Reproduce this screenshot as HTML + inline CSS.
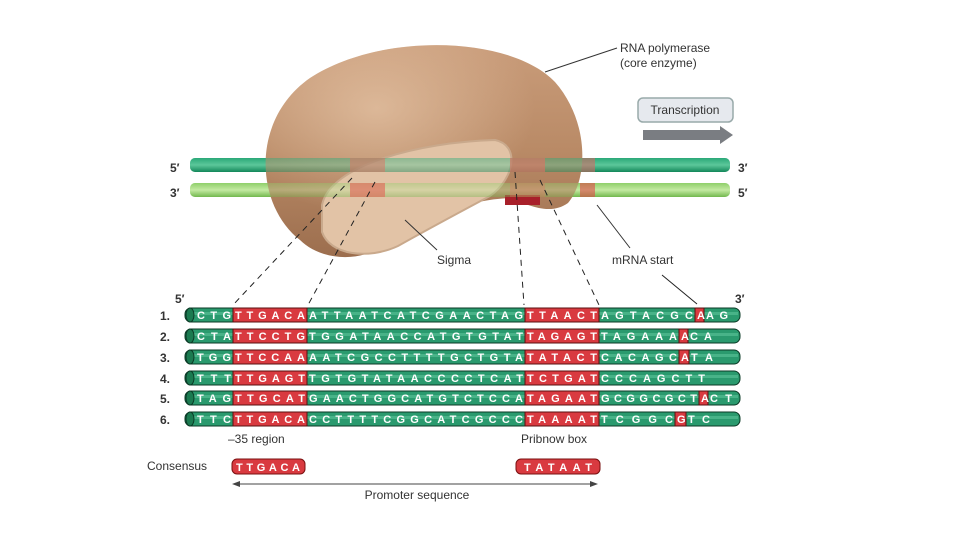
<!DOCTYPE html>
<html><head><style>
body{margin:0;background:#fff;}
svg{display:block;font-family:"Liberation Sans",sans-serif;}
.seq{font-weight:bold;font-size:11px;fill:#fff;}
.lbl{font-size:12px;fill:#333;}
</style></head><body>
<svg width="960" height="540" viewBox="0 0 960 540">
<defs>
<linearGradient id="enz" x1="0" y1="0" x2="0" y2="1">
<stop offset="0" stop-color="#c99c7a"/><stop offset="0.5" stop-color="#b98a66"/><stop offset="1" stop-color="#9c6e4e"/></linearGradient>
<radialGradient id="hl" cx="0.35" cy="0.3" r="0.5"><stop offset="0" stop-color="#e8c8aa" stop-opacity="0.7"/><stop offset="1" stop-color="#e8c8aa" stop-opacity="0"/></radialGradient>
<linearGradient id="dg" x1="0" y1="0" x2="0" y2="1"><stop offset="0" stop-color="#2aa878"/><stop offset="0.5" stop-color="#5cc79a"/><stop offset="1" stop-color="#13875a"/></linearGradient>
<linearGradient id="lg" x1="0" y1="0" x2="0" y2="1"><stop offset="0" stop-color="#8fcf6a"/><stop offset="0.5" stop-color="#c4eaa2"/><stop offset="1" stop-color="#72b84e"/></linearGradient>
</defs>
<rect x="190" y="158" width="540" height="14" rx="5" fill="url(#dg)"/>
<rect x="190" y="183" width="540" height="14" rx="5" fill="url(#lg)"/>
<rect x="580" y="158" width="15" height="14" fill="#e06060"/>
<rect x="580" y="183" width="15" height="14" fill="#e04848"/>
<path d="M300,240 C255,205 250,120 310,78 C380,32 510,35 555,82 C590,122 588,180 568,203 C550,216 528,205 510,198 C470,200 420,215 385,245 C355,265 318,258 300,240 Z" fill="url(#enz)"/>
<path d="M300,240 C255,205 250,120 310,78 C380,32 510,35 555,82 C590,122 588,180 568,203 C550,216 528,205 510,198 C470,200 420,215 385,245 C355,265 318,258 300,240 Z" fill="url(#hl)"/>
<path d="M322,205 C330,165 420,142 495,140 C520,145 515,178 490,196 C460,212 430,228 398,246 C368,260 330,255 322,232 Z" fill="#e2c3a6" stroke="#c9a98c" stroke-width="2"/>
<rect x="505" y="195" width="35" height="10" fill="#a8202a"/>
<rect x="190" y="158" width="540" height="14" rx="5" fill="url(#dg)" opacity="0.45"/>
<rect x="190" y="183" width="540" height="14" rx="5" fill="url(#lg)" opacity="0.4"/>
<rect x="350" y="158" width="35" height="14" fill="#e07060" opacity="0.5"/>
<rect x="350" y="183" width="35" height="14" fill="#e07060" opacity="0.7"/>
<rect x="510" y="158" width="35" height="14" fill="#e07060" opacity="0.6"/>
<rect x="510" y="183" width="35" height="14" fill="#e07060" opacity="0.3"/>
<text x="170" y="172" class="lbl" font-weight="bold" font-size="11">5′</text>
<text x="170" y="197" class="lbl" font-weight="bold" font-size="11">3′</text>
<text x="738" y="172" class="lbl" font-weight="bold" font-size="11">3′</text>
<text x="738" y="197" class="lbl" font-weight="bold" font-size="11">5′</text>
<line x1="545" y1="72" x2="617" y2="48" stroke="#333"/>
<text x="620" y="52" class="lbl">RNA polymerase</text>
<text x="620" y="67" class="lbl">(core enzyme)</text>
<rect x="638" y="98" width="95" height="24" rx="5" fill="#e6e9ee" stroke="#9aa" stroke-width="1.5"/>
<text x="685" y="114" class="lbl" text-anchor="middle">Transcription</text>
<polygon points="643,130 720,130 720,126 733,135 720,144 720,140 643,140" fill="#7a7d82"/>
<line x1="405" y1="220" x2="437" y2="250" stroke="#333"/>
<text x="437" y="264" class="lbl">Sigma</text>
<line x1="597" y1="205" x2="630" y2="248" stroke="#333"/>
<text x="612" y="264" class="lbl">mRNA start</text>
<g stroke="#222" stroke-dasharray="6,5" fill="none">
<line x1="352" y1="178" x2="233" y2="305"/>
<line x1="375" y1="182" x2="308" y2="305"/>
<line x1="515" y1="172" x2="524" y2="305"/>
<line x1="540" y1="180" x2="599" y2="305"/>
</g>
<line x1="662" y1="275" x2="697" y2="304" stroke="#222"/>
<text x="175" y="303" class="lbl" font-weight="bold" font-size="11">5′</text>
<text x="735" y="303" class="lbl" font-weight="bold" font-size="11">3′</text>
<g id="rows"></g>
<text x="228" y="443" class="lbl">–35 region</text>
<text x="521" y="443" class="lbl">Pribnow box</text>
<text x="147" y="470" class="lbl">Consensus</text>
<rect x="232" y="459" width="73" height="15" rx="5" fill="#d93a40" stroke="#7a1010"/>
<text x="268" y="471" class="seq" text-anchor="middle" textLength="64" lengthAdjust="spacing">TTGACA</text>
<rect x="516" y="459" width="84" height="15" rx="5" fill="#d93a40" stroke="#7a1010"/>
<text x="558" y="471" class="seq" text-anchor="middle" textLength="68" lengthAdjust="spacing">TATAAT</text>
<line x1="236" y1="484" x2="594" y2="484" stroke="#444"/>
<polygon points="232,484 240,481 240,487" fill="#444"/>
<polygon points="598,484 590,481 590,487" fill="#444"/>
<text x="417" y="499" class="lbl" text-anchor="middle">Promoter sequence</text>
</svg>
<script>
var rows=[
["CTG","TTGACA","ATTAATCATCGAACTAG","TTAACT","AGTACGC","A","AG",695,704],
["CTA","TTCCTG","TGGATAACCATGTGTAT","TAGAGT","TAGAAA","A","CA",679,688],
["TGG","TTCCAA","AATCGCCTTTTGCTGTA","TATACT","CACAGC","A","TA",679,689],
["TTT","TTGAGT","TGTGTATAACCCCTCAT","TCTGAT","CCCAGCTT","","",0,0],
["TAG","TTGCAT","GAACTGGCATGTCTCCA","TAGAAT","GCGGCGCT","A","CT",699,708],
["TTC","TTGACA","CCTTTTCGGCATCGCCC","TAAAAT","TCGGC","G","TC",675,686]];
var ys=[315,336,357,378,398,419];
var ns="http://www.w3.org/2000/svg",g=document.getElementById("rows");
function el(t,a,txt){var e=document.createElementNS(ns,t);for(var k in a)e.setAttribute(k,a[k]);if(txt)e.textContent=txt;g.appendChild(e);return e;}
rows.forEach(function(r,i){var y=ys[i];
el("text",{x:160,y:y+5,"class":"lbl","font-weight":"bold","font-size":"12"},(i+1)+".");
el("rect",{x:185,y:y-7,width:555,height:14,rx:6,fill:"#2a9a6e",stroke:"#0b3a26","stroke-width":1});
el("rect",{x:187,y:y-3,width:551,height:3,fill:"#5ec49a",opacity:0.6});
el("ellipse",{cx:190,cy:y,rx:4,ry:7,fill:"#1b7a50",stroke:"#0b3a26"});
el("rect",{x:233,y:y-7,width:74,height:14,fill:"#d93a40",stroke:"#5a1010"});
el("rect",{x:525,y:y-7,width:74,height:14,fill:"#d93a40",stroke:"#5a1010"});
if(r[5])el("rect",{x:r[7],y:y-7,width:r[8]-r[7],height:14,fill:"#d93a40",stroke:"#5a1010"});
function seg(s,x1,x2){if(!s)return;el("text",{x:x1+2,y:y+4,"class":"seq",textLength:x2-x1-4,lengthAdjust:"spacing"},s);}
seg(r[0],195,233);seg(r[1],233,307);seg(r[2],307,525);seg(r[3],525,599);
if(r[5]){seg(r[4],599,r[7]);seg(r[5],r[7],r[8]);seg(r[6],r[8],Math.min(736,r[8]+r[6].length*13));}
else seg(r[4],599,599+r[4].length*13.5);
});
</script>
</body></html>
